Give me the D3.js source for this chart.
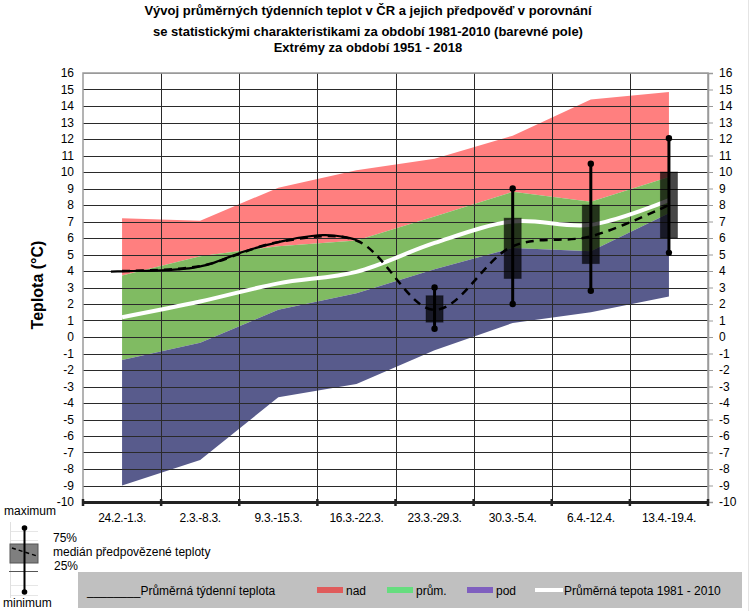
<!DOCTYPE html>
<html><head><meta charset="utf-8">
<script src="https://cdn.jsdelivr.net/npm/d3@7"></script>
<style>
html,body{margin:0;padding:0;background:#fff;}
svg{display:block;font-family:"Liberation Sans",Arial,sans-serif;}
</style></head>
<body><svg id="c" width="754" height="611"></svg>
<script>
// ---------- data ----------
const categories = ["24.2.-1.3.","2.3.-8.3.","9.3.-15.3.","16.3.-22.3.","23.3.-29.3.","30.3.-5.4.","6.4.-12.4.","13.4.-19.4."];
const extremeMax  = [7.2, 7.05, 9.05, 10.1, 10.8, 12.2, 14.4, 14.85];
const upperNormal = [3.72, 4.9, 5.5, 5.85, 7.3, 8.8, 8.2, 9.7];
const lowerNormal = [-1.4, -0.35, 1.65, 2.65, 4.1, 5.4, 5.2, 7.5];
const extremeMin  = [-9.0, -7.45, -3.65, -2.85, -0.8, 0.85, 1.5, 2.45];
const mean8110    = [1.2, 2.15, 3.25, 3.95, 5.7, 7.0, 6.8, 8.3];
const forecastMedian = [4.0, 4.3, 5.75, 5.85, 1.65, 5.5, 6.1, 8.0];
const forecastQ75 = [null, null, null, null, 2.5, 7.2, 8.0, 10.0];
const forecastQ25 = [null, null, null, null, 0.9, 3.55, 4.45, 6.0];
const forecastMax = [null, null, null, null, 3.0, 9.0, 10.5, 12.05];
const forecastMin = [null, null, null, null, 0.5, 2.0, 2.8, 5.1];
// running weekly mean, daily (day index from 24.2.)
const obsDay   = [2,3,4,5,6,7,8,9,10,11,12,13,14,15,16,17,18,19,20,21,22,23,24];
const obsValue = [3.96,3.98,4.0,4.01,4.02,4.05,4.1,4.16,4.28,4.44,4.7,4.95,5.2,5.4,5.58,5.75,5.9,6.03,6.12,6.17,6.15,6.05,5.88];
const yTicks = d3.range(-10, 17, 1);
const titleLines = ["Vývoj průměrných týdenních teplot v ČR a jejich  předpověď v porovnání",
                    "se statistickými charakteristikami za období 1981-2010 (barevné pole)",
                    "Extrémy za období 1951 - 2018"];

// ---------- layout ----------
const svg = d3.select("#c");
const L = 83, R = 708, T = 73, B = 502;
const x = d3.scaleBand().domain(categories).range([L, R]).padding(0);
const bw = x.bandwidth();
const cx = c => x(c) + bw / 2;
const xDay = d3.scaleLinear().domain([0, categories.length * 7]).range([L, R]);
const y = d3.scaleLinear().domain([-10, 16]).range([B, T]);
const fmt = d => String(d);

const rows = categories.map((c, i) => ({c, i}));
const band = (lo, hi, color) => {
  svg.append("path").datum(rows)
    .attr("d", d3.area().x(d => cx(d.c)).y0(d => y(lo[d.i])).y1(d => y(hi[d.i])))
    .attr("fill", color);
};
band(upperNormal, extremeMax, "#ff7f7f");
band(lowerNormal, upperNormal, "#80bb62");
band(extremeMin, lowerNormal, "#585b8c");

// grid
svg.append("g").selectAll("line").data(yTicks.slice(1)).join("line")
  .attr("x1", L).attr("x2", R).attr("y1", d => Math.round(y(d)) + 0.5).attr("y2", d => Math.round(y(d)) + 0.5)
  .attr("stroke", d => (d === 16) ? "#9a9a9a" : "#2a2a2a").attr("stroke-width", 1);
svg.append("g").selectAll("line").data(categories.slice(1)).join("line")
  .attr("x1", d => Math.round(x(d)) + 0.5).attr("x2", d => Math.round(x(d)) + 0.5)
  .attr("y1", T).attr("y2", B)
  .attr("stroke", "#2a2a2a").attr("stroke-width", 1);

// plot border
svg.append("path").attr("d", `M${L},${B}V${T}H${R}V${B}`).attr("fill", "none")
  .attr("stroke", "#9a9a9a").attr("stroke-width", 1.5);

// left axis labels
const yl = svg.append("g").attr("transform", `translate(${L},0)`)
  .call(d3.axisLeft(y).tickValues(yTicks).tickSize(0).tickPadding(9).tickFormat(fmt));
yl.select(".domain").remove();
yl.selectAll("text").attr("font-size", 12).attr("fill", "#000").attr("font-family", "Liberation Sans, Arial");
// right axis
const yr = svg.append("g").attr("transform", `translate(${R},0)`)
  .call(d3.axisRight(y).tickValues(yTicks).tickSize(5).tickPadding(6).tickFormat(fmt));
yr.select(".domain").attr("stroke", "#9a9a9a").attr("stroke-width", 1.5);
yr.selectAll(".tick line").attr("stroke", "#9a9a9a");
yr.selectAll("text").attr("font-size", 12).attr("fill", "#000").attr("font-family", "Liberation Sans, Arial");

// x axis
const xa = svg.append("g").attr("transform", `translate(0,${B})`)
  .call(d3.axisBottom(x).tickSize(0).tickPadding(11));
xa.select(".domain").attr("stroke", "#222").attr("stroke-width", 3);
xa.selectAll("text").attr("font-size", 12).attr("fill", "#000").attr("font-family", "Liberation Sans, Arial").attr("letter-spacing", "-0.3");
svg.append("g").selectAll("line").data(d3.range(categories.length + 1)).join("line")
  .attr("x1", d => L + d * bw).attr("x2", d => L + d * bw).attr("y1", B - 3).attr("y2", B + 4)
  .attr("stroke", "#222").attr("stroke-width", 2.5);

// white mean line
svg.append("path").datum(rows)
  .attr("d", d3.line().x(d => cx(d.c)).y(d => y(mean8110[d.i])).curve(d3.curveCatmullRom.alpha(0.5)))
  .attr("fill", "none").attr("stroke", "#fff").attr("stroke-width", 4);

// forecast boxes
const fr = rows.filter(d => forecastQ75[d.i] !== null);
const bx = 17;
svg.append("g").selectAll("rect").data(fr).join("rect")
  .attr("x", d => cx(d.c) - bx / 2).attr("width", bx)
  .attr("y", d => y(forecastQ75[d.i])).attr("height", d => y(forecastQ25[d.i]) - y(forecastQ75[d.i]))
  .attr("fill", "#000").attr("fill-opacity", 0.72).attr("stroke", "#000").attr("stroke-opacity", 0.4);

// forecast median dashed
svg.append("path").datum(rows)
  .attr("d", d3.line().x(d => cx(d.c)).y(d => y(forecastMedian[d.i])).curve(d3.curveCatmullRom.alpha(0.5)))
  .attr("fill", "none").attr("stroke", "#000").attr("stroke-width", 2.5).attr("stroke-dasharray", "8,6");

// whiskers
const wg = svg.append("g");
wg.selectAll("line").data(fr).join("line")
  .attr("x1", d => cx(d.c)).attr("x2", d => cx(d.c))
  .attr("y1", d => y(forecastMax[d.i])).attr("y2", d => y(forecastMin[d.i]))
  .attr("stroke", "#000").attr("stroke-width", 3);
wg.selectAll("circle.mx").data(fr).join("circle").attr("class", "mx")
  .attr("cx", d => cx(d.c)).attr("cy", d => y(forecastMax[d.i])).attr("r", 3.2).attr("fill", "#000");
wg.selectAll("circle.mn").data(fr).join("circle").attr("class", "mn")
  .attr("cx", d => cx(d.c)).attr("cy", d => y(forecastMin[d.i])).attr("r", 3.2).attr("fill", "#000");

// observed weekly running mean
svg.append("path").datum(obsDay.map((d, i) => [d, obsValue[i]]))
  .attr("d", d3.line().x(d => xDay(d[0] + 0.5)).y(d => y(d[1])).curve(d3.curveCatmullRom.alpha(0.5)))
  .attr("fill", "none").attr("stroke", "#000").attr("stroke-width", 2.2);

// titles
const tY = [15, 36, 52];
svg.append("g").selectAll("text").data(titleLines).join("text")
  .attr("x", 368).attr("y", (d, i) => tY[i]).attr("text-anchor", "middle")
  .attr("font-size", 13).attr("font-weight", "bold").text(d => d);
svg.append("text").attr("transform", "translate(43,285) rotate(-90)").attr("text-anchor", "middle")
  .attr("font-size", 16).attr("font-weight", "bold").text("Teplota (°C)");

// outer faint border
svg.append("line").attr("x1", 748.5).attr("x2", 748.5).attr("y1", 0).attr("y2", 611).attr("stroke", "#e4e4e4");

// box legend (bottom-left)
const lg = svg.append("g");
[531, 540, 585, 595].forEach(v => lg.append("line").attr("x1", 10).attr("x2", 38).attr("y1", v + 0.5).attr("y2", v + 0.5).attr("stroke", "#e6e6e6"));
lg.append("line").attr("x1", 10.5).attr("x2", 10.5).attr("y1", 522).attr("y2", 598).attr("stroke", "#e0e0e0");
lg.append("line").attr("x1", 9).attr("x2", 38).attr("y1", 571.5).attr("y2", 571.5).attr("stroke", "#555");
lg.append("rect").attr("x", 10).attr("y", 544).attr("width", 28).attr("height", 19).attr("fill", "#7f7f7f").attr("stroke", "#555");
lg.append("line").attr("x1", 12).attr("x2", 37).attr("y1", 548).attr("y2", 556).attr("stroke", "#000").attr("stroke-width", 1.5).attr("stroke-dasharray", "4,3");
lg.append("line").attr("x1", 24.5).attr("x2", 24.5).attr("y1", 528).attr("y2", 592).attr("stroke", "#000").attr("stroke-width", 2);
lg.append("circle").attr("cx", 24.5).attr("cy", 528).attr("r", 2.8);
lg.append("circle").attr("cx", 24.5).attr("cy", 592).attr("r", 2.8);
const lt = [["maximum", 4, 515], ["75%", 53, 542], ["medián předpovězené teploty", 53, 556], ["25%", 54, 570], ["minimum", 3, 607]];
lg.selectAll("text").data(lt).join("text").attr("x", d => d[1]).attr("y", d => d[2])
  .attr("font-size", 12).text(d => d[0]);

// bottom legend
const bl = svg.append("g");
bl.append("rect").attr("x", 78).attr("y", 572).attr("width", 664).attr("height", 36).attr("fill", "#c0c0c0");
bl.append("text").attr("x", 87).attr("y", 595).attr("font-size", 12).text("________Průměrná týdenní teplota");
const items = [["nad", "#e05c5c", 317], ["prům.", "#66dd7f", 387], ["pod", "#7f5fbf", 467]];
items.forEach(([t, c, x0]) => {
  bl.append("rect").attr("x", x0).attr("y", 587).attr("width", 26).attr("height", 6).attr("fill", c);
  bl.append("text").attr("x", x0 + 29).attr("y", 595).attr("font-size", 12).text(t);
});
bl.append("line").attr("x1", 535).attr("x2", 563).attr("y1", 590).attr("y2", 590).attr("stroke", "#fff").attr("stroke-width", 4);
bl.append("text").attr("x", 564).attr("y", 595).attr("font-size", 12).text("Průměrná tepota 1981 - 2010");
</script></body></html>
